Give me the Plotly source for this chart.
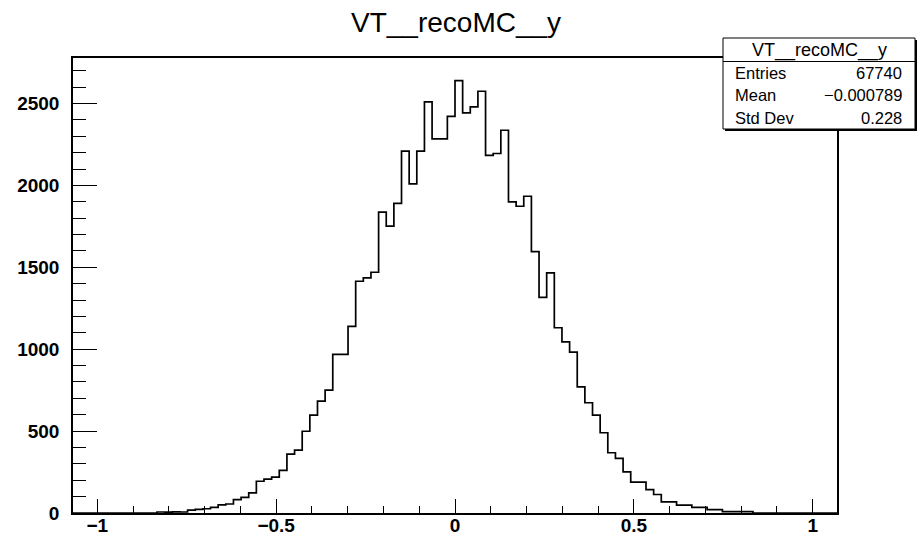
import plotly.graph_objects as go

# ---- data ----
title = "VT__recoMC__y"
x_min, x_max, n_bins = -1.068, 1.068, 100
first_filled_bin = 11
counts_filled = [
    6, 5, 7, 6, 18, 22, 26, 34, 50, 55, 82, 96, 123, 194, 207, 219, 260, 360, 384,
    499, 597, 683, 750, 968, 968, 1140,
    1415, 1436, 1470, 1837, 1751, 1890, 2209, 2010, 2209, 2510, 2284, 2284, 2422,
    2640, 2443, 2480, 2575, 2183, 2195, 2337, 1900, 1873, 1934, 1596, 1316, 1466,
    1131, 1045, 982, 770, 673, 597, 490, 368, 333, 251, 188, 188, 143, 113, 68, 68,
    48, 48, 34, 34, 21, 21, 9, 9, 9, 9,
]
stat_labels = ["Entries", "Mean", "Std Dev"]
stat_values = ["67740", "\u22120.000789", "0.228"]
y_max = 2778

# ---- build histogram arrays ----
counts = [0] * n_bins
for i, c in enumerate(counts_filled):
    counts[first_filled_bin + i] = c
width = (x_max - x_min) / n_bins
edges = [x_min + k * width for k in range(n_bins + 1)]
ys = counts + [counts[-1]]

W, H = 923, 537
L, R, T, B = 73, 837, 58, 513


def px(xp):
    return (xp - L) / (R - L)


def py(yp):
    return (B - yp) / (B - T)


fig = go.Figure()
fig.add_trace(go.Scatter(x=edges, y=ys, mode="lines", line_shape="hv",
                         line=dict(color="black", width=1.7), hoverinfo="skip",
                         showlegend=False))

axis_common = dict(showgrid=False, zeroline=False, showline=True, linecolor="black",
                   linewidth=1.5, mirror=True, ticks="inside", tickcolor="black",
                   tickwidth=1.3, automargin=False,
                   tickfont=dict(family="Liberation Sans", size=19, color="black",
                                 weight="bold"))

fig.update_layout(
    width=W, height=H,
    margin=dict(l=L, r=W - R, t=T, b=H - B),
    paper_bgcolor="white", plot_bgcolor="white",
    xaxis=dict(range=[x_min, x_max], tick0=0, dtick=0.5, ticklen=14,
               ticklabelstandoff=-6,
               minor=dict(dtick=0.1, ticklen=7, ticks="inside", tickcolor="black",
                          tickwidth=1.3, showgrid=False),
               **axis_common),
    yaxis=dict(range=[0, y_max], tick0=0, dtick=500, ticklen=24, ticklabelstandoff=8,
               minor=dict(dtick=100, ticklen=13, ticks="inside", tickcolor="black",
                          tickwidth=1.3, showgrid=False),
               **axis_common),
    font=dict(family="Liberation Sans", color="black"),
)

# title
fig.add_annotation(text=title, xref="paper", yref="paper", x=px(456), y=py(22),
                   showarrow=False, font=dict(size=28, family="Liberation Sans"),
                   xanchor="center", yanchor="middle")

# stats box
bx0, bx1, by0, by1, row_title = 723, 915, 38, 129, 61.5
fig.add_shape(type="rect", xref="paper", yref="paper", x0=px(bx0 + 2), x1=px(bx1 + 2),
              y0=py(by1 + 2), y1=py(by0 + 2), fillcolor="black", line=dict(width=0),
              layer="above")
fig.add_shape(type="rect", xref="paper", yref="paper", x0=px(bx0), x1=px(bx1),
              y0=py(by1), y1=py(by0), fillcolor="white",
              line=dict(color="black", width=1), layer="above")
fig.add_shape(type="line", xref="paper", yref="paper", x0=px(bx0), x1=px(bx1),
              y0=py(row_title), y1=py(row_title), line=dict(color="black", width=1),
              layer="above")
fig.add_annotation(text=title, xref="paper", yref="paper", x=px((bx0 + bx1) / 2),
                   y=py((by0 + row_title) / 2 + 1), showarrow=False,
                   font=dict(size=18), xanchor="center", yanchor="middle")
row_h = (by1 - row_title) / len(stat_labels)
for i, (lab, val) in enumerate(zip(stat_labels, stat_values)):
    yc = row_title + row_h * (i + 0.5)
    fig.add_annotation(text=lab, xref="paper", yref="paper", x=px(733), y=py(yc),
                       showarrow=False, font=dict(size=16.5), xanchor="left",
                       yanchor="middle")
    fig.add_annotation(text=val, xref="paper", yref="paper", x=px(904), y=py(yc),
                       showarrow=False, font=dict(size=16.5), xanchor="right",
                       yanchor="middle")

fig.write_html("out.html")
